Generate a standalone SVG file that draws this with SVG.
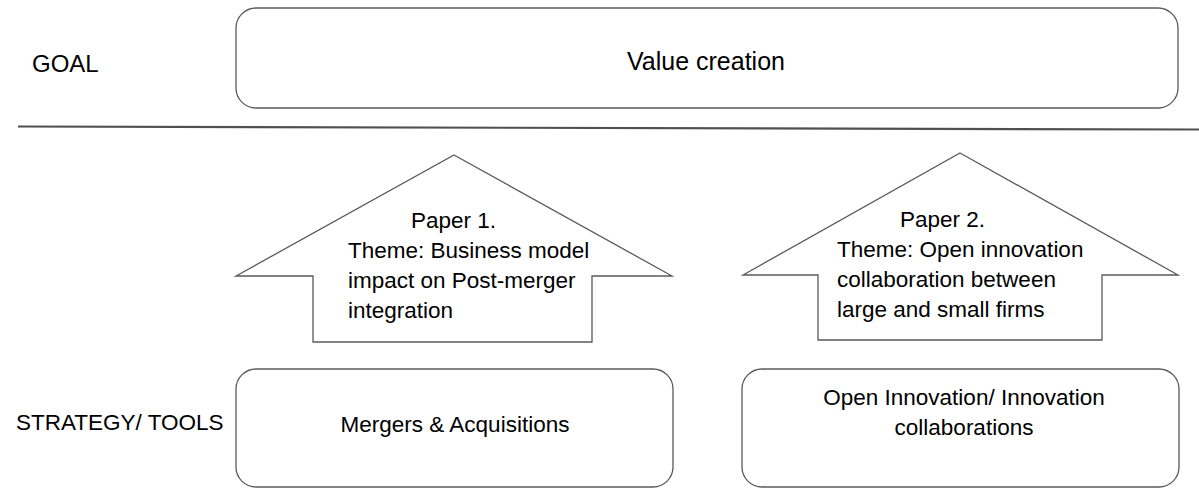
<svg xmlns="http://www.w3.org/2000/svg" width="1199" height="488" viewBox="0 0 1199 488">
<style>
.box{fill:#fff;stroke:#595959;stroke-width:1.3}
.arrow{fill:#fff;stroke:#595959;stroke-width:1.3;stroke-linejoin:miter}
.t{font-family:"Liberation Sans",Arial,sans-serif;fill:#000}
.lbl{font-size:23px}
.body{font-size:22.5px}
</style>
<rect width="1199" height="488" fill="#fff"/>
<g id="label-goal"><text class="t" x="32" y="72" font-size="24">GOAL</text></g>
<g id="label-strategy"><text class="t" x="16" y="430" font-size="22.5">STRATEGY/ TOOLS</text></g>
<g id="divider"><line x1="18" y1="126.5" x2="1199" y2="129.5" stroke="#505050" stroke-width="2.2"/></g>
<g id="goal-box">
<rect class="box" x="236" y="8" width="942" height="100" rx="20"/>
<text class="t" x="706" y="70" font-size="25" text-anchor="middle">Value creation</text>
</g>
<g id="connectors">
<g id="paper1">
<polygon class="arrow" points="454,155 672,276 592,276 592,342 313,342 313,276 236,276"/>
<text class="t body" x="411" y="228">Paper 1.</text>
<text class="t body" x="348" y="258">Theme: Business model</text>
<text class="t body" x="348" y="288">impact on Post-merger</text>
<text class="t body" x="348" y="318">integration</text>
</g>
<g id="paper2">
<polygon class="arrow" points="960,153 1178,275 1102,275 1102,340 818,340 818,275 743,275"/>
<text class="t body" x="900" y="227">Paper 2.</text>
<text class="t body" x="837" y="257">Theme: Open innovation</text>
<text class="t body" x="837" y="287">collaboration between</text>
<text class="t body" x="837" y="317">large and small firms</text>
</g>
</g>
<g id="ma-box">
<rect class="box" x="236" y="369" width="437" height="118" rx="20"/>
<text class="t body" x="455" y="432" text-anchor="middle">Mergers &amp; Acquisitions</text>
</g>
<g id="oi-box">
<rect class="box" x="742" y="369" width="437" height="118" rx="20"/>
<text class="t body" x="964" y="405" text-anchor="middle">Open Innovation/ Innovation</text>
<text class="t body" x="964" y="435" text-anchor="middle">collaborations</text>
</g>
</svg>
